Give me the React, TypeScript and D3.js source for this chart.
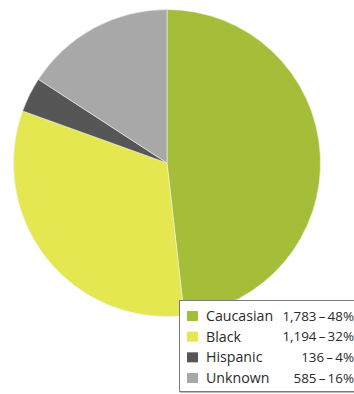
import React from "react";
import * as d3 from "d3";

const categories = ["Caucasian", "Black", "Hispanic", "Unknown"];
const counts = [1783, 1194, 136, 585];
const percents = [48, 32, 4, 16];
const colors = ["#a5be3a", "#e4e74f", "#565656", "#a8a8a8"];

const W = 354;
const H = 394;

export default function App() {
  const cx = 167;
  const cy = 163;
  const r = 153.5;
  const pie = d3.pie<number>().sort(null).value((d) => d);
  const arcs = pie(counts);
  const arc = d3.arc<d3.PieArcDatum<number>>().innerRadius(0).outerRadius(r);

  const rowY = d3.scalePoint<string>().domain(categories).range([316, 378]);
  const fmt = d3.format(",");

  return (
    <svg
      width={W}
      height={H}
      style={{ position: "absolute", left: 0, top: 0, background: "#fff" }}
      fontFamily="'Open Sans', sans-serif"
    >
      <g transform={`translate(${cx},${cy})`}>
        {arcs.map((a, i) => (
          <path key={i} d={arc(a) || ""} fill={colors[i]} stroke="#f2f2e6" strokeWidth={0.6} />
        ))}
      </g>
      <rect x={179.5} y={300.5} width={190} height={91} fill="#fff" stroke="#7a7a7a" strokeWidth={1} />
      <line x1={180} x2={370} y1={392.5} y2={392.5} stroke="#bbb" strokeWidth={1} />
      {categories.map((c, i) => {
        const y = rowY(c) as number;
        return (
          <g key={c}>
            <rect x={187} y={y - 5} width={11} height={10} fill={colors[i]} />
            <text x={206} y={y} dy="0.35em" fontSize={14.2} fill="#2a2a2a">
              {c}
            </text>
            <text x={354} y={y} dy="0.35em" fontSize={13.4} fill="#2a2a2a" textAnchor="end">
              {`${fmt(counts[i])}\u2009–\u2009${percents[i]}%`}
            </text>
          </g>
        );
      })}
    </svg>
  );
}
